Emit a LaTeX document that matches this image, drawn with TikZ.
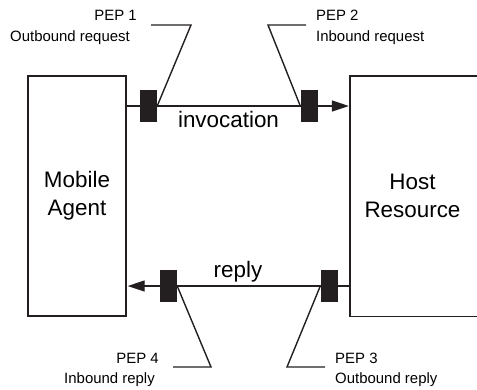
\documentclass[tikz,border=0pt]{standalone}
\usepackage{fontspec}
\setmainfont{Liberation Sans}
\usetikzlibrary{arrows.meta}
\definecolor{ink}{HTML}{231F20}
\tikzset{
  wire/.style={draw=ink, line width=1.4bp},
  flow/.style={wire, -{Triangle[length=17bp,width=11bp]}},
  pep/.style={fill=ink, draw=none, minimum width=17bp, minimum height=32bp, inner sep=0pt},
  party/.style={inner sep=0pt, align=center, font=\fontsize{22.5}{28}\selectfont},
  biglabel/.style={inner sep=0pt, anchor=base, font=\fontsize{22.5}{27}\selectfont},
  small/.style={inner sep=0pt, font=\fontsize{15}{18}\selectfont},
}
\begin{document}
\begin{tikzpicture}[x=1bp, y=-1bp]
\useasboundingbox (0,0) rectangle (477,389);

% the two parties
\node[party, wire, minimum width=98bp, minimum height=240bp] (agent) at (77,196) {Mobile\\Agent};
\node[party, minimum width=125bp, minimum height=240bp] (host) at (412.5,196) {Host\\Resource};
\draw[wire] ([xshift=3bp]host.north east) -- (host.north west) -- (host.south west) -- ([xshift=3bp]host.south east);

% invocation and reply flows
\coordinate (invA) at (agent.east |- 0,106);
\coordinate (invH) at (host.west |- 0,106);
\coordinate (repH) at (host.west |- 0,286);
\coordinate (repA) at (agent.east |- 0,286);
\draw[flow] (invA) -- ([xshift=-1bp]invH);
\draw[flow] (repH) -- ([xshift=1bp]repA);
\node[biglabel] (invlbl) at (228.5,127) {invocation};
\node[biglabel] (replbl) at (238,277) {reply};

% policy enforcement points
\node[pep] (pep1) at (148.5,105.5) {};
\node[pep] (pep2) at (309,105.5) {};
\node[pep] (pep3) at (329,285.5) {};
\node[pep] (pep4) at (168.5,285.5) {};

% leader lines
\coordinate (k1) at (191,25);   \coordinate (e1) at (151,25);
\coordinate (k2) at (268,25);   \coordinate (e2) at (306,25);
\coordinate (k3) at (287,367);  \coordinate (e3) at (325,367);
\coordinate (k4) at (211,367);  \coordinate (e4) at (173,367);
\draw[wire] (pep1.east |- invA) -- (k1) -- (e1);
\draw[wire] (pep2.west |- invA) -- (k2) -- (e2);
\draw[wire] (pep3.west |- repH) -- (k3) -- (e3);
\draw[wire] (pep4.east |- repH) -- (k4) -- (e4);

% PEP captions
\node[small, anchor=base east] (t1a) at (137,20) {PEP 1};
\node[small, anchor=base east] (t1b) at (130,41) {Outbound request};
\node[small, anchor=base west] (t2a) at (316,20) {PEP 2};
\node[small, anchor=base west] (t2b) at (316,41) {Inbound request};
\node[small, anchor=base west] (t3a) at (335,363) {PEP 3};
\node[small, anchor=base west] (t3b) at (335,383) {Outbound reply};
\node[small, anchor=base east] (t4a) at (159,363) {PEP 4};
\node[small, anchor=base east] (t4b) at (155,383) {Inbound reply};
\end{tikzpicture}
\end{document}
